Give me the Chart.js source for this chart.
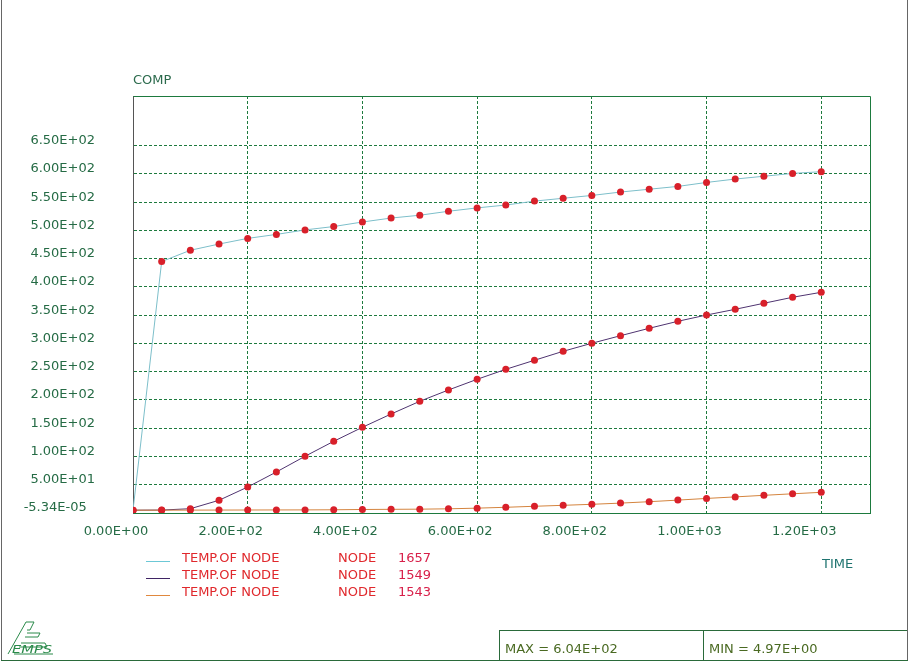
<!DOCTYPE html>
<html>
<head>
<meta charset="utf-8">
<script src="https://cdn.jsdelivr.net/npm/chart.js@4/dist/chart.umd.min.js"></script>
<style>
html,body{margin:0;padding:0;background:#fff;}
#wrap{position:relative;width:909px;height:662px;overflow:hidden;font-family:"DejaVu Sans",Verdana,sans-serif;font-size:13px;}
#c{position:absolute;left:0;top:0;}
.t{position:absolute;line-height:16px;white-space:pre;}
.ln{position:absolute;}
</style>
</head>
<body>
<div id="wrap">
<canvas id="c" width="909" height="662"></canvas>
<div class="t" style="left:133px;top:72px;color:#2b6a4c;">COMP</div>
<div class="t" style="left:822px;top:556px;color:#1f7470;">TIME</div>
<div id="legend"></div>
<!-- frame -->
<div class="ln" style="left:1px;top:0;width:1px;height:661px;background:#666;"></div>
<div class="ln" style="left:907px;top:0;width:1px;height:661px;background:#666;"></div>
<div class="ln" style="left:1px;top:660px;width:907px;height:1px;background:#2a6a3a;"></div>
<!-- max/min box -->
<div class="ln" style="left:499px;top:630px;width:408px;height:1px;background:#2a6a3a;"></div>
<div class="ln" style="left:499px;top:630px;width:1px;height:30px;background:#2a6a3a;"></div>
<div class="ln" style="left:703px;top:630px;width:1px;height:30px;background:#2a6a3a;"></div>
<div class="t" id="maxTxt" style="left:505px;top:641px;color:#4a6a22;"></div>
<div class="t" id="minTxt" style="left:709px;top:641px;color:#4a6a22;"></div>
<!-- logo -->
<svg style="position:absolute;left:0;top:615px;" width="60" height="45" viewBox="0 0 60 45">
  <g fill="none" stroke="#2a8a4a" stroke-width="1">
    <polyline points="8,39 26,7 34,7"/>
    <polyline points="34,7 30,15 27,15"/>
    <polyline points="27,18 40,18 38,22 25,22"/>
    <polyline points="21,28 45,28 47,32 19,32"/>
    <line x1="14" y1="39" x2="53" y2="39"/>
  </g>
  <text x="12" y="38" font-family="DejaVu Sans" font-size="10" font-style="italic" fill="#2a8a4a" textLength="40" lengthAdjust="spacingAndGlyphs">EMPS</text>
</svg>
</div>
<script>
// ---- data ----
const times = [0,50,100,150,200,250,300,350,400,450,500,550,600,650,700,750,800,850,900,950,1000,1050,1100,1150,1200];
const node1657 = [4.97,445,465,476,486,493,501,507,515,522,527,534,540,545,552,557,562,568,573,578,585,591,596,601,604];
const node1549 = [4.97,5.2,7.6,22.5,46,72.6,100.4,126.9,151.7,175.2,197.7,217.7,236.6,254.3,270.3,286.2,300.4,313.8,326.9,339.3,350.4,360.5,371.2,381.8,390.6];
const node1543 = [4.97,5.0,5.1,5.2,5.3,5.4,5.5,5.7,6.2,6.5,6.8,7.4,8.6,10.1,11.9,13.6,15.4,17.5,20.0,22.8,25.8,28.5,31.3,34.0,36.6];
const xTicks = [0,200,400,600,800,1000,1200];
const xTickLabels = ["0.00E+00","2.00E+02","4.00E+02","6.00E+02","8.00E+02","1.00E+03","1.20E+03"];
const yTicks = [0,50,100,150,200,250,300,350,400,450,500,550,600,650];
const yTickLabels = ["-5.34E-05","5.00E+01","1.00E+02","1.50E+02","2.00E+02","2.50E+02","3.00E+02","3.50E+02","4.00E+02","4.50E+02","5.00E+02","5.50E+02","6.00E+02","6.50E+02"];
const legendLabels = ["TEMP.OF NODE","TEMP.OF NODE","TEMP.OF NODE"];
const nodeIds = ["1657","1549","1543"];
const maxLabel = "MAX = 6.04E+02";
const minLabel = "MIN = 4.97E+00";
const xRange = [0, 1285];
const yRange = [-5.34e-5, 738];

// ---- styles ----
const lineColors = ["#7dbfca", "#4f3470", "#d4843e"];
const legendColors = ["#6cc8d6", "#3f2464", "#e0883e"];
const markerColor = "#d8202a";
const gridGreen = "#1d7a3e";

document.getElementById('maxTxt').textContent = maxLabel;
document.getElementById('minTxt').textContent = minLabel;
const leg = document.getElementById('legend');
const legTops = [550, 567, 584];
legendLabels.forEach((lab, i) => {
  const top = legTops[i];
  leg.insertAdjacentHTML('beforeend',
    `<div class="ln" style="left:146px;top:${top+11}px;width:24px;height:1px;background:${legendColors[i]};"></div>` +
    `<div class="t" style="left:182px;top:${top}px;color:#e0282c;">${lab}</div>` +
    `<div class="t" style="left:338px;top:${top}px;color:#e0282c;">NODE</div>` +
    `<div class="t" style="left:398px;top:${top}px;color:#d8204a;">${nodeIds[i]}</div>`);
});

const series = [node1657, node1549, node1543];
const orders = [0, 2, 1];
const datasets = series.map((vals, i) => ({
  label: legendLabels[i] + ' ' + nodeIds[i],
  data: times.map((t, k) => ({x: t, y: vals[k]})),
  borderColor: lineColors[i],
  borderWidth: 1,
  pointRadius: 3.5,
  pointBackgroundColor: markerColor,
  pointBorderWidth: 0,
  tension: 0,
  fill: false,
  order: orders[i]
}));

const framePlugin = {
  id: 'frame',
  afterDraw(chart) {
    const {ctx, chartArea: a} = chart;
    ctx.save();
    ctx.strokeStyle = gridGreen;
    ctx.lineWidth = 1;
    ctx.beginPath();
    ctx.moveTo(Math.round(a.left) + 0.5, Math.round(a.top) + 0.5);
    ctx.lineTo(Math.round(a.right) + 0.5, Math.round(a.top) + 0.5);
    ctx.lineTo(Math.round(a.right) + 0.5, Math.round(a.bottom) + 0.5);
    ctx.stroke();
    ctx.restore();
  }
};

const tickFont = {family: '"DejaVu Sans", Verdana, sans-serif', size: 13};
new Chart(document.getElementById('c'), {
  type: 'line',
  data: {datasets},
  options: {
    responsive: false,
    animation: false,
    events: [],
    layout: {padding: {left: 0, top: 96, right: 39, bottom: 0}},
    plugins: {legend: {display: false}, tooltip: {enabled: false}, title: {display: false}},
    scales: {
      x: {
        type: 'linear',
        min: xRange[0], max: xRange[1],
        afterBuildTicks: s => { s.ticks = xTicks.map(v => ({value: v})); },
        afterFit: s => { s.height = 149; },
        ticks: {
          callback: (v) => xTickLabels[xTicks.indexOf(v)],
          font: tickFont, color: '#256b45', padding: 11, labelOffset: -17,
          maxRotation: 0, autoSkip: false
        },
        grid: {
          color: c => (c.tick && c.tick.value === 0) ? 'rgba(0,0,0,0)' : gridGreen,
          drawTicks: false, lineWidth: 1
        },
        border: {color: gridGreen, width: 1, dash: [3, 2]}
      },
      y: {
        type: 'linear',
        min: yRange[0], max: yRange[1],
        afterBuildTicks: s => { s.ticks = yTicks.map(v => ({value: v})); },
        afterFit: s => { s.width = 133; },
        ticks: {
          callback: (v) => {
            const lab = yTickLabels[yTicks.indexOf(v)];
            return lab.startsWith('-') ? lab + '\u2007' : lab;
          },
          font: tickFont, color: '#256b45', padding: 38, labelOffset: -5,
          autoSkip: false
        },
        grid: {
          color: c => (c.tick && c.tick.value === 0) ? 'rgba(0,0,0,0)' : gridGreen,
          drawTicks: false, lineWidth: 1
        },
        border: {color: '#555555', width: 1, dash: [3, 2]}
      }
    }
  },
  plugins: [framePlugin]
});
</script>
</body>
</html>
